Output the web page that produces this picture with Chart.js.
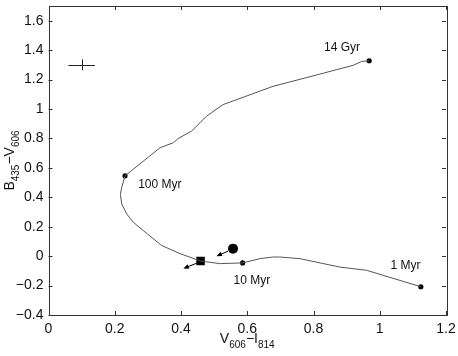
<!DOCTYPE html>
<html>
<head>
<meta charset="utf-8">
<script src="https://cdn.jsdelivr.net/npm/chart.js@4.4.1/dist/chart.umd.min.js"></script>
<style>
    html, body { margin: 0; padding: 0; background: #fff; }
    #wrap { width: 458px; height: 356px; }
</style>
</head>
<body>
<div id="wrap"><canvas id="cmd-chart"></canvas></div>
<script>
// track, ordered from 1 Myr to 14 Gyr
const trackX = [1.124, 0.960, 0.879, 0.759, 0.698, 0.677, 0.638, 0.586, 0.517, 0.459, 0.397, 0.341, 0.286, 0.256, 0.236, 0.221, 0.217, 0.221, 0.231,
    0.337, 0.377, 0.392, 0.432, 0.457, 0.477, 0.527, 0.678, 0.819, 0.869, 0.919, 0.945, 0.968];
const trackY = [-0.208, -0.096, -0.074, -0.017, -0.006, -0.006, -0.017, -0.046, -0.051, -0.033, 0.017, 0.073, 0.174, 0.230, 0.287, 0.355, 0.420, 0.467, 0.546,
    0.737, 0.771, 0.800, 0.850, 0.906, 0.951, 1.030, 1.154, 1.237, 1.267, 1.296, 1.323, 1.328];

const ageNames = ['1 Myr', '10 Myr', '100 Myr', '14 Gyr'];
const ageX = [1.124, 0.586, 0.231, 0.968];
const ageY = [-0.208, -0.046, 0.546, 1.328];
const ageLabelX = [1.078, 0.614, 0.336, 0.886];
const ageLabelY = [-0.062, -0.170, 0.485, 1.418];

const squareX = [0.459];
const squareY = [-0.033];
const circleX = [0.557];
const circleY = [0.051];

// arrows: start and tip
const arrowFromX = [0.542, 0.452];
const arrowFromY = [0.034, -0.044];
const arrowToX = [0.507, 0.407];
const arrowToY = [0.000, -0.084];

// error cross
const errX = 0.1, errY = 1.3, errDx = 0.04, errDy = 0.037;

const xTicks = [0, 0.2, 0.4, 0.6, 0.8, 1, 1.2];
const yTicks = [-0.4, -0.2, 0, 0.2, 0.4, 0.6, 0.8, 1, 1.2, 1.4, 1.6];

const FONT = '"Liberation Sans", Arial, Helvetica, sans-serif';
const AXIS = '#333';

function pts(xs, ys) {
    return xs.map((x, i) => ({x: x, y: ys[i]}));
}

function fmtTick(v) {
    const r = Math.round(v * 10) / 10;
    return String(r).replace('-', '\u2212');
}

function drawSubText(ctx, parts, x, y) {
    // parts: [text, isSub]
    let cx = x;
    parts.forEach(p => {
        ctx.font = (p[1] ? '10px ' : '14px ') + FONT;
        ctx.fillText(p[0], cx, p[1] ? y + 5 : y);
        cx += ctx.measureText(p[0]).width;
    });
    return cx - x;
}

function partsWidth(ctx, parts) {
    let w = 0;
    parts.forEach(p => {
        ctx.font = (p[1] ? '10px ' : '14px ') + FONT;
        w += ctx.measureText(p[0]).width;
    });
    return w;
}

const extrasPlugin = {
    id: 'extras',
    afterDatasetsDraw(chart) {
        const ctx = chart.ctx;
        const xs = chart.scales.x, ys = chart.scales.y;
        const a = chart.chartArea;
        ctx.save();

        // frame + inward ticks
        ctx.strokeStyle = AXIS;
        ctx.lineWidth = 1;
        ctx.strokeRect(Math.round(a.left) + 0.5, Math.round(a.top) + 0.5, Math.round(a.right - a.left), Math.round(a.bottom - a.top));
        ctx.beginPath();
        xTicks.forEach(v => {
            const px = Math.round(xs.getPixelForValue(v)) + 0.5;
            ctx.moveTo(px, a.bottom); ctx.lineTo(px, a.bottom - 4);
            ctx.moveTo(px, a.top); ctx.lineTo(px, a.top + 4);
        });
        yTicks.forEach(v => {
            const py = Math.round(ys.getPixelForValue(v)) + 0.5;
            ctx.moveTo(a.left, py); ctx.lineTo(a.left + 4, py);
            ctx.moveTo(a.right, py); ctx.lineTo(a.right - 4, py);
        });
        ctx.stroke();

        // error cross
        ctx.strokeStyle = '#222';
        ctx.beginPath();
        const cy = Math.round(ys.getPixelForValue(errY)) + 0.5;
        const cx = Math.round(xs.getPixelForValue(errX)) + 0.5;
        ctx.moveTo(xs.getPixelForValue(errX - errDx), cy);
        ctx.lineTo(xs.getPixelForValue(errX + errDx), cy);
        ctx.moveTo(cx, ys.getPixelForValue(errY - errDy));
        ctx.lineTo(cx, ys.getPixelForValue(errY + errDy));
        ctx.stroke();

        // arrows
        ctx.fillStyle = '#000';
        ctx.strokeStyle = '#000';
        arrowFromX.forEach((fx, i) => {
            const x0 = xs.getPixelForValue(fx), y0 = ys.getPixelForValue(arrowFromY[i]);
            const x1 = xs.getPixelForValue(arrowToX[i]), y1 = ys.getPixelForValue(arrowToY[i]);
            const ang = Math.atan2(y1 - y0, x1 - x0);
            ctx.beginPath();
            ctx.moveTo(x0, y0);
            ctx.lineTo(x1 - 3 * Math.cos(ang), y1 - 3 * Math.sin(ang));
            ctx.stroke();
            ctx.beginPath();
            ctx.moveTo(x1, y1);
            ctx.lineTo(x1 - 6 * Math.cos(ang - 0.4), y1 - 6 * Math.sin(ang - 0.4));
            ctx.lineTo(x1 - 6 * Math.cos(ang + 0.4), y1 - 6 * Math.sin(ang + 0.4));
            ctx.closePath();
            ctx.fill();
        });

        // age labels
        ctx.fillStyle = '#111';
        ctx.font = '12px ' + FONT;
        ctx.textAlign = 'center';
        ctx.textBaseline = 'middle';
        ageNames.forEach((n, i) => {
            ctx.fillText(n, xs.getPixelForValue(ageLabelX[i]), ys.getPixelForValue(ageLabelY[i]));
        });

        // axis titles with subscripts
        ctx.textAlign = 'left';
        ctx.textBaseline = 'alphabetic';
        const xParts = [['V', false], ['606', true], ['\u2212I', false], ['814', true]];
        const xw = partsWidth(ctx, xParts);
        drawSubText(ctx, xParts, (a.left + a.right) / 2 - xw / 2, 343);

        const yParts = [['B', false], ['435', true], ['\u2212V', false], ['606', true]];
        const yw = partsWidth(ctx, yParts);
        ctx.translate(14, (a.top + a.bottom) / 2 + yw / 2);
        ctx.rotate(-Math.PI / 2);
        drawSubText(ctx, yParts, 0, 0);

        ctx.restore();
    }
};

const ctx = document.getElementById('cmd-chart').getContext('2d');
const cmdChart = new Chart(ctx, {
    type: 'scatter',
    data: {
        datasets: [{
            data: pts(trackX, trackY),
            showLine: true,
            borderColor: '#555',
            borderWidth: 1,
            pointRadius: 0,
            tension: 0,
        }, {
            data: pts(ageX, ageY),
            pointRadius: 2.6,
            pointBackgroundColor: '#000',
            pointBorderWidth: 0,
        }, {
            data: pts(squareX, squareY),
            pointStyle: 'rect',
            pointRadius: 6,
            pointBackgroundColor: '#000',
            pointBorderWidth: 0,
        }, {
            data: pts(circleX, circleY),
            pointRadius: 5,
            pointBackgroundColor: '#000',
            pointBorderWidth: 0,
        }]
    },
    options: {
        responsive: true,
        maintainAspectRatio: false,
        animation: false,
        layout: {padding: {top: 4, right: 12, left: 0, bottom: 0}},
        plugins: {legend: {display: false}, tooltip: {enabled: false}},
        scales: {
            x: {
                type: 'linear', min: 0, max: 1.2,
                afterFit: s => { s.height = 41; s.paddingLeft = 0; s.paddingRight = 0; },
                afterBuildTicks: s => { s.ticks = xTicks.map(v => ({value: v})); },
                grid: {display: false, drawTicks: false},
                border: {display: false},
                ticks: {padding: 6, color: '#111', font: {family: FONT, size: 14}, maxRotation: 0, callback: fmtTick},
            },
            y: {
                type: 'linear', min: -0.4, max: 1.7,
                afterFit: s => { s.width = 48.5; s.paddingTop = 0; s.paddingBottom = 0; },
                afterBuildTicks: s => { s.ticks = yTicks.map(v => ({value: v})); },
                grid: {display: false, drawTicks: false},
                border: {display: false},
                ticks: {padding: 5, color: '#111', font: {family: FONT, size: 14}, callback: fmtTick},
            }
        }
    },
    plugins: [extrasPlugin]
});
</script>
</body>
</html>
